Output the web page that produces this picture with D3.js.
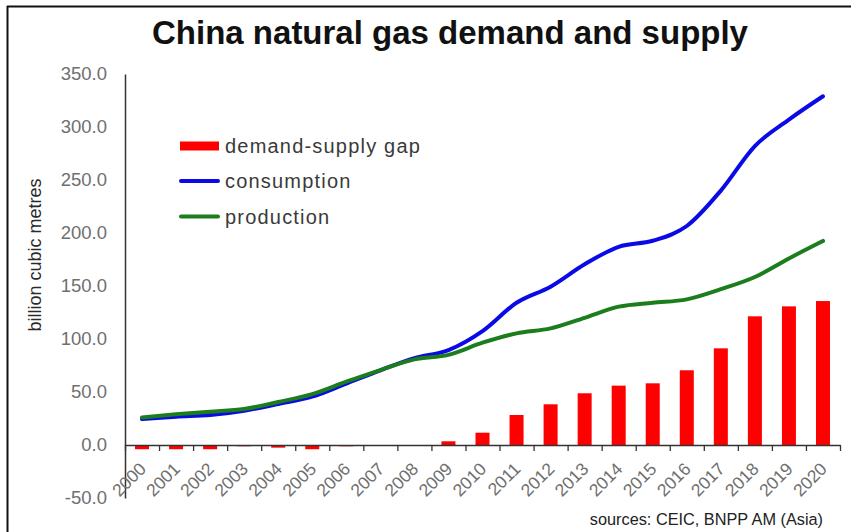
<!DOCTYPE html>
<html>
<head>
<meta charset="utf-8">
<script src="https://cdn.jsdelivr.net/npm/d3@7"></script>
<style>
  html, body { margin: 0; padding: 0; background: #fff; }
  svg { display: block; font-family: "Liberation Sans", Arial, sans-serif; }
</style>
</head>
<body>
<svg id="chart" width="851" height="532"></svg>
<script>
// China natural gas: consumption, production and the gap between them (bcm)
const years = ["2000","2001","2002","2003","2004","2005","2006","2007","2008","2009","2010",
               "2011","2012","2013","2014","2015","2016","2017","2018","2019","2020"];
const gap = [-4, -4, -4, -1.2, -2.5, -4, -1.2, 0, 0, 3.5, 11.6, 28.3, 38.4, 48.8, 56, 58.2, 70.5, 91.2, 121.4, 130.8, 135.8];
const consumption = [24.5, 26.7, 28.3, 32.4, 38.7, 45.6, 58, 70.5, 82, 89.6, 107.5, 134.2, 149.4, 170.5, 187, 192.7, 206.6, 240, 282, 307, 329];
const production = [26, 29, 31.4, 34, 40.5, 48, 59.7, 70.7, 80.8, 85, 96.5, 105.3, 110, 120, 130.5, 134.2, 137.4, 147, 158.5, 176, 192.5];
const yTicks = [-50, 0, 50, 100, 150, 200, 250, 300, 350];

const svg = d3.select("#chart");
const W = 851, H = 532;
const plot = { left: 125, right: 840, top: 74, bottom: 498 };

svg.append("rect").attr("width", W).attr("height", H).attr("fill", "#fff");

// frame lines along top and left
svg.append("line").attr("x1", 7).attr("x2", W).attr("y1", 6.5).attr("y2", 6.5)
  .attr("stroke", "#111").attr("stroke-width", 2);
svg.append("line").attr("x1", 7.5).attr("x2", 7.5).attr("y1", 6).attr("y2", H)
  .attr("stroke", "#111").attr("stroke-width", 2);

const x = d3.scaleBand().domain(years).range([plot.left, plot.right]).padding(0);
const xEdge = d3.scaleLinear().domain([0, years.length]).range([plot.left, plot.right]);
const y = d3.scaleLinear().domain([-50, 350]).range([plot.bottom, plot.top]);
const cx = d => x(d) + x.bandwidth() / 2;

// title
svg.append("text")
  .attr("x", 450).attr("y", 44)
  .attr("text-anchor", "middle")
  .attr("font-size", 33).attr("font-weight", "bold").attr("fill", "#111")
  .text("China natural gas demand and supply");

// y axis (plain hyphen for negatives)
const fmt = v => (v < 0 ? "-" : "") + Math.abs(v).toFixed(1);
const yAxis = svg.append("g")
  .attr("transform", `translate(${plot.left},0)`)
  .call(d3.axisLeft(y).tickValues(yTicks).tickSize(0).tickSizeOuter(0).tickPadding(18)
        .tickFormat(fmt));
yAxis.select(".domain").attr("stroke", "#333").attr("stroke-width", 1.5);
yAxis.selectAll("text").attr("font-size", 18.5).attr("fill", "#6f6f6f")
  .attr("font-family", "Liberation Sans, Arial, sans-serif");

svg.append("text")
  .attr("transform", "translate(41,255) rotate(-90)")
  .attr("text-anchor", "middle")
  .attr("font-size", 18).attr("fill", "#2a2a2a")
  .text("billion cubic metres");

// bars for the demand-supply gap
const barW = 14;
svg.append("g").selectAll("rect").data(years).join("rect")
  .attr("x", d => cx(d) - barW / 2)
  .attr("width", barW)
  .attr("y", (d, i) => y(Math.max(0, gap[i])))
  .attr("height", (d, i) => Math.abs(y(gap[i]) - y(0)))
  .attr("fill", "#ff0000");

// x axis: ticks on category boundaries
const xAxis = svg.append("g")
  .attr("transform", `translate(0,${y(0)})`)
  .call(d3.axisBottom(xEdge).tickValues(d3.range(years.length + 1)).tickSize(6)
        .tickSizeOuter(0).tickFormat(""));
xAxis.select(".domain").attr("stroke", "#333").attr("stroke-width", 1.5);
xAxis.selectAll(".tick line").attr("stroke", "#333").attr("stroke-width", 1.3);

svg.append("g").selectAll("text").data(years).join("text")
  .attr("transform", d => `translate(${cx(d) + 5},${y(0) + 25}) rotate(-45)`)
  .attr("text-anchor", "end")
  .attr("font-size", 17.5).attr("fill", "#6f6f6f")
  .text(d => d);

// lines
const line = d3.line()
  .x((d, i) => cx(years[i]))
  .y(d => y(d))
  .curve(d3.curveMonotoneX);

svg.append("path").datum(consumption)
  .attr("d", line).attr("fill", "none")
  .attr("stroke", "#0a0ae6").attr("stroke-width", 4)
  .attr("stroke-linejoin", "round").attr("stroke-linecap", "round");
svg.append("path").datum(production)
  .attr("d", line).attr("fill", "none")
  .attr("stroke", "#1b7d1b").attr("stroke-width", 4)
  .attr("stroke-linejoin", "round").attr("stroke-linecap", "round");

// legend
const legend = svg.append("g");
const legendItems = [
  { label: "demand-supply gap", color: "#ff0000", type: "bar", yPos: 146 },
  { label: "consumption", color: "#0a0ae6", type: "line", yPos: 181 },
  { label: "production", color: "#1b7d1b", type: "line", yPos: 216.5 }
];
legendItems.forEach(it => {
  if (it.type === "bar") {
    legend.append("rect").attr("x", 180).attr("y", it.yPos - 4.5)
      .attr("width", 39).attr("height", 9).attr("fill", it.color);
  } else {
    legend.append("line").attr("x1", 181).attr("x2", 218)
      .attr("y1", it.yPos).attr("y2", it.yPos)
      .attr("stroke", it.color).attr("stroke-width", 4).attr("stroke-linecap", "round");
  }
  legend.append("text").attr("x", 225).attr("y", it.yPos + 7)
    .attr("font-size", 20).attr("letter-spacing", 1.2).attr("fill", "#3a3a3a")
    .text(it.label);
});

// source note
svg.append("text")
  .attr("x", 823).attr("y", 525)
  .attr("text-anchor", "end")
  .attr("font-size", 16.3).attr("fill", "#222")
  .text("sources: CEIC, BNPP AM (Asia)");
</script>
</body>
</html>
